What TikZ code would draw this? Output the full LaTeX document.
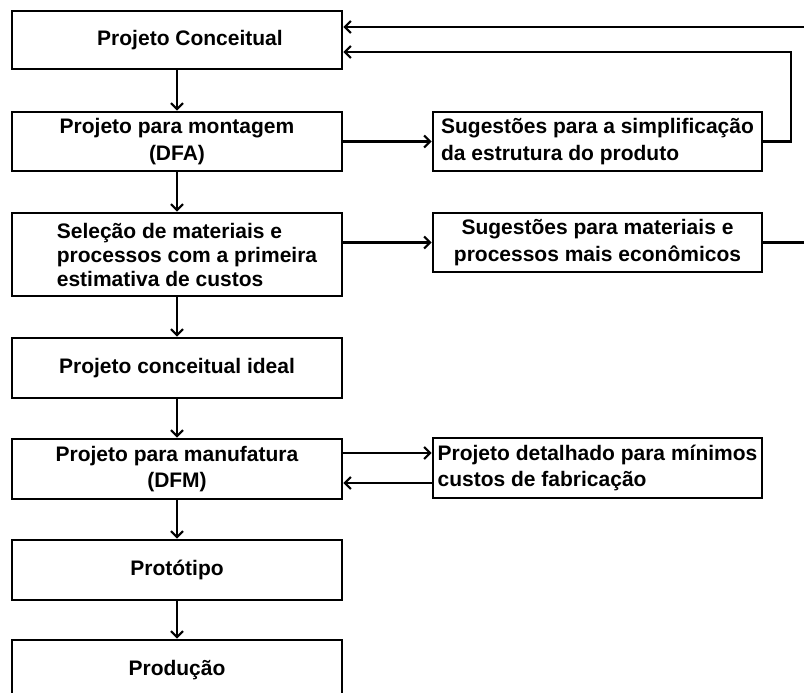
\documentclass[tikz,border=0pt]{standalone}
\usepackage{fontspec}
\setmainfont{Liberation Sans}
\usetikzlibrary{arrows.meta}
\begin{document}
\begin{tikzpicture}[x=1pt,y=-1pt,
  box/.style={draw,line width=2.6pt,inner sep=0pt,font=\fontsize{21}{23.5}\selectfont\bfseries},
  twoline/.style={font=\fontsize{21}{26.5}\selectfont\bfseries},
  lbox/.style={box,minimum width=330pt},
  rbox/.style={box,minimum width=329pt},
  txt/.style={inner sep=0pt,font=\fontsize{21}{24}\selectfont\bfseries},
  arr/.style={line width=2.2pt,-{Straight Barb[length=6pt,width=12pt,line width=2.2pt]}},
  ln/.style={line width=2.2pt}]
\useasboundingbox (0,0) rectangle (804,693);
\clip (0,0) rectangle (804,693);
\fill[white] (0,0) rectangle (804,693);
% left column
\node[lbox,minimum height=58pt] (b1) at (177,40) {};
\node[txt] (t1) at ([xshift=13pt]b1) {Projeto Conceitual};
\node[lbox,twoline,minimum height=59pt,align=center] (b2) at (177,141.5) {Projeto para montagem\\(DFA)};
\node[lbox,minimum height=83pt] (b3) at (177,254.5) {};
\node[txt,align=left] (t3) at ([xshift=10pt]b3) {Seleção de materiais e\\processos com a primeira\\estimativa de custos};
\node[lbox,minimum height=60pt] (b4) at (177,368) {Projeto conceitual ideal};
\node[lbox,twoline,minimum height=60pt,align=center] (b5) at (177,469) {Projeto para manufatura\\(DFM)};
\node[lbox,minimum height=60pt] (b6) at (177,570) {Protótipo};
\node[lbox,minimum height=60pt] (b7) at (177,670) {Produção};
% right column
\node[rbox,twoline,minimum height=59pt,align=left] (r2) at (597.5,141.5) {Sugestões para a simplificação\\da estrutura do produto};
\node[rbox,twoline,minimum height=59pt,align=center] (r3) at (597.5,242.5) {Sugestões para materiais e\\processos mais econômicos};
\node[rbox,twoline,minimum height=60pt,align=left] (r5) at (597.5,468) {Projeto detalhado para mínimos\\custos de fabricação};
% coordinates
\coordinate (topin) at (804,27);
\coordinate (fbx) at (791,0);
\coordinate (outR) at (804,0);
% vertical flow
\draw[arr] (b1) -- (b2);
\draw[arr] (b2) -- (b3);
\draw[arr] (b3) -- (b4);
\draw[arr] (b4) -- (b5);
\draw[arr] (b5) -- (b6);
\draw[arr] (b6) -- (b7);
% horizontal
\draw[arr] (b2.east) -- (r2.west);
\draw[arr] (b3.east |- r3.west) -- (r3.west);
\draw[arr] ([yshift=16pt]b5.east) -- ([yshift=16pt]b5.east -| r5.west);
\draw[arr] ([yshift=-14pt]b5.east -| r5.west) -- ([yshift=-14pt]b5.east);
% feedback
\draw[arr] (r2.east) -- (r2.east -| fbx) |- ([yshift=-12pt]b1.east);
\draw[arr] (topin) -- (topin -| b1.east);
\draw[ln] (r3.east) -- (r3.east -| outR);
\end{tikzpicture}
\end{document}
